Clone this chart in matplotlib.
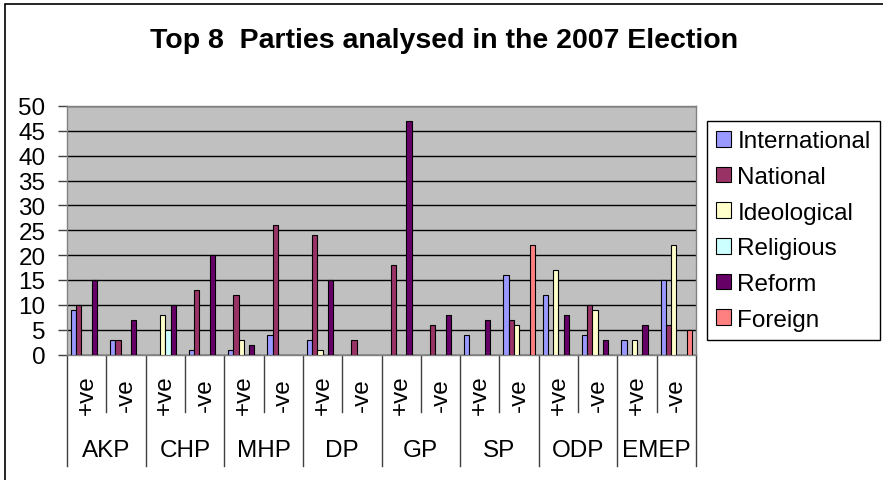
import matplotlib
matplotlib.use('Agg')
import matplotlib.pyplot as plt
import numpy as np
from matplotlib.patches import Patch, Rectangle

plt.rcParams['font.family'] = ['Liberation Sans', 'DejaVu Sans']

# ---- data ----
parties = ['AKP', 'CHP', 'MHP', 'DP', 'GP', 'SP', 'ODP', 'EMEP']
sub_labels = ['+ve', '-ve']
series_names = ['International', 'National', 'Ideological', 'Religious', 'Reform', 'Foreign']
international = [9, 3, 0, 1, 1, 4, 3, 0, 0, 0, 4, 16, 12, 4, 3, 15]
national      = [10, 3, 0, 13, 12, 26, 24, 3, 18, 6, 0, 7, 0, 10, 0, 6]
ideological   = [0, 0, 8, 0, 3, 0, 1, 0, 0, 0, 0, 6, 17, 9, 3, 22]
religious     = [0, 0, 5, 0, 0, 0, 0, 0, 0, 0, 0, 0, 0, 0, 0, 0]
reform        = [15, 7, 10, 20, 2, 0, 15, 0, 47, 8, 7, 0, 8, 3, 6, 0]
foreign       = [0, 0, 0, 0, 0, 0, 0, 0, 0, 0, 0, 22, 0, 0, 0, 5]
colors = ['#9999FF', '#993366', '#FFFFCC', '#CCFFFF', '#660066', '#FF8080']
series = [international, national, ideological, religious, reform, foreign]

FS = 17.5
W_PX, H_PX = 883, 481
fig = plt.figure(figsize=(W_PX / 100, H_PX / 100), dpi=100)

# chart border (extends beyond image on right/bottom)
fig.add_artist(Rectangle((5 / W_PX, -0.1), 2, 1 - 5 / H_PX + 0.1, transform=fig.transFigure,
                         fill=False, edgecolor='black', lw=1.2))

left, right, top, bottom = 67, 696, 107, 355.5
ax = fig.add_axes([left / W_PX, 1 - bottom / H_PX, (right - left) / W_PX, (bottom - top) / H_PX])
ax.set_facecolor('#C0C0C0')

ncat = len(parties) * len(sub_labels)
x = np.arange(ncat) + 0.5
bw = 1 / 7.5
for j, (vals, c) in enumerate(zip(series, colors)):
    ax.bar(x + (j - 2.5) * bw, vals, width=bw, color=c, edgecolor='black', linewidth=0.8, zorder=3)

ax.set_xlim(0, ncat)
ax.set_ylim(0, 50)
ax.set_yticks(range(0, 51, 5))
ax.yaxis.grid(True, color='black', lw=1)
ax.set_axisbelow(True)
ax.tick_params(axis='y', length=6.5, width=1, pad=9, labelsize=FS, color='#404040')
ax.set_xticks([])
for s in ax.spines.values():
    s.set_color('#808080')
    s.set_linewidth(1)

# multi-level category axis
tr = ax.get_xaxis_transform()
ah = bottom - top
inner_end = -(413 - bottom) / ah
outer_end = -(467 - bottom) / ah
for i in range(ncat + 1):
    end = outer_end if i % 2 == 0 else inner_end
    ax.plot([i, i], [0, end], transform=tr, color='#404040', lw=1, clip_on=False)
for i in range(ncat):
    ax.text(x[i], -(395 - bottom) / ah, sub_labels[i % 2], transform=tr, rotation=90,
            ha='center', va='center', fontsize=FS)
for k, p in enumerate(parties):
    ax.text(2 * k + 1, -(451 - bottom) / ah, p, transform=tr, ha='center', va='center', fontsize=FS)

fig.text(444 / W_PX, 1 - 41 / H_PX, 'Top 8  Parties analysed in the 2007 Election',
         ha='center', va='center', fontsize=20.5, weight='bold')

handles = [Patch(facecolor=c, edgecolor='black', lw=0.8) for c in colors]
leg = fig.legend(handles, series_names, loc='upper left', bbox_to_anchor=(707 / W_PX, 1 - 122 / H_PX),
                 frameon=True, fancybox=False, edgecolor='black', fontsize=FS,
                 handlelength=0.62, handleheight=0.62, handletextpad=0.25, labelspacing=0.565,
                 borderpad=0.38, borderaxespad=0, framealpha=1)
leg.get_frame().set_linewidth(1)

fig.savefig('out.png', dpi=100)
